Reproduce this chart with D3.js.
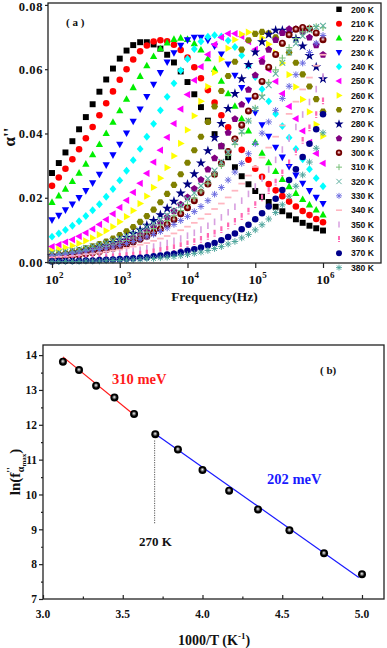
<!DOCTYPE html>
<html>
<head>
<meta charset="utf-8">
<script src="https://d3js.org/d3.v7.min.js"></script>
<style>
body { margin: 0; background: #fff; }
text { font-family: "Liberation Serif", "Times New Roman", serif; font-weight: bold; fill: #111; }
.leg { font-family: "Liberation Sans", Arial, sans-serif; }
</style>
</head>
<body>
<script>
// ---- panel (a) data : alpha'' vs frequency ----
var freq = [1.00e2, 1.26e2, 1.58e2, 2.00e2, 2.51e2, 3.16e2, 3.98e2, 5.01e2, 6.31e2, 7.94e2,
            1.00e3, 1.26e3, 1.58e3, 2.00e3, 2.51e3, 3.16e3, 3.98e3, 5.01e3, 6.31e3, 7.94e3,
            1.00e4, 1.26e4, 1.58e4, 2.00e4, 2.51e4, 3.16e4, 3.98e4, 5.01e4, 6.31e4, 7.94e4,
            1.00e5, 1.26e5, 1.58e5, 2.00e5, 2.51e5, 3.16e5, 3.98e5, 5.01e5, 6.31e5, 7.94e5,
            1.00e6];
var temps = ["200 K", "210 K", "220 K", "230 K", "240 K", "250 K", "260 K", "270 K", "280 K", "290 K",
             "300 K", "310 K", "320 K", "330 K", "340 K", "350 K", "360 K", "370 K", "380 K"];

var a200 = [.0277,.0308,.0341,.0376,.0413,.0451,.0491,.0530,.0568,.0602,.0633,.0658,.0675,.0684,.0684,.0677,.0664,.0645,.0621,.0593,.0560,.0522,.0482,.0440,.0398,.0360,.0326,.0295,.0267,.0242,.0221,.0203,.0187,.0172,.0158,.0145,.0133,.0122,.0113,.0105,.0098];
var a210 = [.0237,.0263,.0290,.0320,.0351,.0385,.0420,.0457,.0494,.0531,.0567,.0600,.0630,.0656,.0674,.0686,.0690,.0687,.0676,.0660,.0636,.0606,.0572,.0535,.0496,.0457,.0419,.0383,.0349,.0318,.0290,.0265,.0243,.0223,.0205,.0188,.0173,.0159,.0146,.0134,.0124];
var a220 = [.0186,.0206,.0227,.0251,.0277,.0305,.0334,.0366,.0400,.0435,.0471,.0507,.0543,.0578,.0611,.0640,.0664,.0682,.0693,.0697,.0693,.0680,.0660,.0633,.0600,.0563,.0524,.0485,.0446,.0408,.0372,.0339,.0309,.0282,.0257,.0235,.0214,.0195,.0178,.0162,.0147];
var a230 = [.0131,.0145,.0162,.0180,.0200,.0222,.0246,.0273,.0302,.0333,.0366,.0401,.0438,.0476,.0515,.0553,.0589,.0622,.0651,.0674,.0691,.0699,.0699,.0690,.0672,.0647,.0616,.0581,.0543,.0504,.0465,.0427,.0391,.0357,.0326,.0297,.0270,.0245,.0222,.0201,.0182];
var a240 = [.0079,.0089,.0100,.0113,.0127,.0143,.0161,.0180,.0203,.0227,.0254,.0284,.0317,.0352,.0390,.0430,.0472,.0514,.0556,.0596,.0632,.0663,.0686,.0701,.0706,.0702,.0689,.0669,.0643,.0611,.0576,.0538,.0500,.0461,.0423,.0387,.0352,.0320,.0289,.0261,.0236];
var a250 = [.0048,.0054,.0062,.0070,.0080,.0091,.0103,.0117,.0132,.0150,.0170,.0192,.0217,.0245,.0276,.0311,.0348,.0388,.0431,.0476,.0521,.0566,.0608,.0646,.0677,.0699,.0711,.0711,.0702,.0686,.0662,.0633,.0599,.0562,.0524,.0484,.0446,.0408,.0372,.0338,.0307];
var a260 = [.0035,.0040,.0045,.0051,.0058,.0066,.0075,.0085,.0097,.0110,.0125,.0141,.0160,.0182,.0205,.0232,.0261,.0294,.0330,.0369,.0411,.0455,.0500,.0546,.0590,.0631,.0665,.0692,.0709,.0715,.0711,.0698,.0678,.0651,.0619,.0583,.0545,.0506,.0467,.0428,.0392];
var a270 = [.0022,.0025,.0028,.0033,.0037,.0043,.0049,.0056,.0064,.0073,.0084,.0096,.0109,.0125,.0143,.0163,.0186,.0212,.0240,.0273,.0309,.0348,.0390,.0436,.0484,.0532,.0579,.0623,.0661,.0690,.0710,.0716,.0712,.0699,.0679,.0652,.0620,.0584,.0546,.0507,.0468];
var a280 = [.0019,.0021,.0024,.0027,.0031,.0036,.0040,.0046,.0052,.0060,.0068,.0077,.0088,.0100,.0114,.0129,.0147,.0167,.0189,.0214,.0242,.0274,.0308,.0346,.0387,.0431,.0477,.0524,.0570,.0614,.0653,.0685,.0708,.0721,.0721,.0712,.0695,.0672,.0642,.0607,.0570];
var a290 = [.0017,.0019,.0021,.0024,.0027,.0031,.0035,.0040,.0045,.0051,.0058,.0066,.0075,.0085,.0096,.0109,.0123,.0140,.0158,.0179,.0202,.0228,.0256,.0288,.0323,.0361,.0402,.0445,.0490,.0536,.0581,.0623,.0661,.0691,.0713,.0725,.0725,.0716,.0699,.0675,.0645];
var a300 = [.0014,.0016,.0018,.0020,.0023,.0026,.0029,.0033,.0038,.0043,.0049,.0055,.0062,.0071,.0080,.0091,.0103,.0117,.0132,.0150,.0169,.0191,.0216,.0243,.0273,.0307,.0344,.0383,.0426,.0470,.0516,.0562,.0606,.0646,.0681,.0707,.0724,.0730,.0726,.0713,.0692];
var a310 = [.0020,.0022,.0025,.0028,.0031,.0035,.0039,.0043,.0048,.0054,.0060,.0067,.0075,.0084,.0093,.0104,.0116,.0129,.0144,.0160,.0179,.0199,.0221,.0245,.0271,.0300,.0332,.0366,.0401,.0439,.0479,.0519,.0559,.0598,.0635,.0667,.0695,.0716,.0729,.0733,.0729];
var a320 = [.0027,.0030,.0033,.0036,.0040,.0044,.0049,.0054,.0060,.0066,.0073,.0081,.0089,.0098,.0109,.0120,.0132,.0146,.0161,.0177,.0195,.0215,.0237,.0260,.0285,.0312,.0342,.0373,.0406,.0440,.0476,.0513,.0550,.0586,.0620,.0652,.0680,.0703,.0721,.0731,.0735];
var a330 = [.0019,.0021,.0023,.0026,.0028,.0032,.0035,.0039,.0043,.0047,.0052,.0058,.0064,.0071,.0078,.0086,.0095,.0106,.0117,.0129,.0142,.0157,.0173,.0191,.0211,.0232,.0255,.0280,.0307,.0337,.0368,.0401,.0436,.0472,.0509,.0547,.0583,.0619,.0652,.0681,.0705];
var a340 = [.0014,.0016,.0017,.0019,.0021,.0024,.0026,.0029,.0032,.0036,.0039,.0044,.0048,.0054,.0059,.0066,.0073,.0081,.0089,.0099,.0110,.0122,.0135,.0149,.0165,.0182,.0201,.0222,.0244,.0269,.0296,.0325,.0356,.0390,.0425,.0461,.0499,.0537,.0574,.0611,.0645];
var a350 = [.0009,.0011,.0012,.0013,.0015,.0016,.0018,.0020,.0022,.0025,.0028,.0031,.0035,.0038,.0043,.0048,.0053,.0059,.0066,.0073,.0082,.0091,.0101,.0113,.0125,.0139,.0155,.0172,.0191,.0212,.0235,.0260,.0288,.0318,.0350,.0384,.0420,.0459,.0498,.0538,.0577];
var a360 = [.0006,.0006,.0007,.0008,.0009,.0010,.0011,.0013,.0014,.0016,.0018,.0020,.0022,.0025,.0028,.0032,.0036,.0040,.0045,.0051,.0057,.0064,.0071,.0080,.0090,.0101,.0113,.0127,.0142,.0159,.0179,.0200,.0223,.0249,.0278,.0309,.0343,.0379,.0418,.0459,.0502];
var a370 = [.0002,.0003,.0003,.0003,.0004,.0005,.0005,.0006,.0007,.0008,.0009,.0010,.0012,.0013,.0015,.0018,.0020,.0023,.0026,.0030,.0035,.0040,.0045,.0052,.0059,.0068,.0078,.0089,.0102,.0116,.0133,.0152,.0173,.0197,.0224,.0255,.0289,.0327,.0368,.0413,.0460];
var a380 = [.0001,.0001,.0002,.0002,.0002,.0003,.0003,.0003,.0004,.0005,.0005,.0006,.0007,.0008,.0010,.0011,.0013,.0015,.0017,.0020,.0023,.0027,.0031,.0036,.0042,.0048,.0056,.0064,.0075,.0086,.0100,.0116,.0134,.0154,.0178,.0205,.0236,.0271,.0311,.0354,.0402];
var series = [a200, a210, a220, a230, a240, a250, a260, a270, a280, a290,
              a300, a310, a320, a330, a340, a350, a360, a370, a380];

var tickAx = [1e2, 1e3, 1e4, 1e5, 1e6];
var tickAxExp = ["2", "3", "4", "5", "6"];
var tickAy = [0, 0.02, 0.04, 0.06, 0.08];

// ---- panel (b) data : ln(f max) vs 1000/T ----
var invT = [3.125, 3.226, 3.333, 3.448, 3.571, 3.704, 3.846, 4.000, 4.167, 4.348, 4.545, 4.762, 5.000];
var lnF  = [13.81, 13.57, 13.12, 12.78, 12.31, 11.73, 11.29, 10.70, 10.11, 9.57, 8.97, 8.31, 7.71];
var fit310x = [3.125, 3.58], fit310y = [13.95, 12.25];
var fit202x = [3.70, 4.98], fit202y = [11.75, 7.62];
var mark270x = [3.70, 3.70], mark270y = [11.55, 9.15];
var tickBx = [3.0, 3.5, 4.0, 4.5, 5.0];
var tickBxMinor = [3.25, 3.75, 4.25, 4.75];
var tickBy = [7, 8, 9, 10, 11, 12, 13, 14];
var tickByMinor = [7.5, 8.5, 9.5, 10.5, 11.5, 12.5, 13.5];

// ---- styles ----
var colors = ["#000000", "#ff0000", "#00ee00", "#0000ff", "#00ffff", "#ff00ff", "#ffff00", "#808000", "#000080", "#800080",
              "#800000", "#78c078", "#5fb0a0", "#6a6ae0", "#ffb6c1", "#d8a0e0", "#ff69b4", "#00008b", "#4aa39a"];
var markerType = ["square", "circle", "triUp", "triDown", "diamond", "triLeft", "triRight", "hex", "star", "pent",
                  "ball", "plus", "cross", "aster", "dash", "vbar", "ibar", "circle", "aster"];

var width = 387, height = 648;
var svg = d3.select("body").append("svg").attr("width", width).attr("height", height);
var defs = svg.append("defs");

function ballGrad(id, dark, mid) {
	var g = defs.append("radialGradient").attr("id", id)
		.attr("cx", "50%").attr("cy", "50%").attr("r", "50%").attr("fx", "48%").attr("fy", "42%");
	g.append("stop").attr("offset", "0%").attr("stop-color", "#fff");
	g.append("stop").attr("offset", "28%").attr("stop-color", mid);
	g.append("stop").attr("offset", "62%").attr("stop-color", dark);
	g.append("stop").attr("offset", "100%").attr("stop-color", dark);
}
ballGrad("ballBlack", "#000", "#888");
ballGrad("ballMaroon", "#700000", "#d08080");

function poly(n, r, rot) {
	var p = [];
	for (var k = 0; k < n; k++) {
		var a = rot + k * 2 * Math.PI / n;
		p.push([(r * Math.cos(a)).toFixed(2), (r * Math.sin(a)).toFixed(2)]);
	}
	return "M" + p.join("L") + "Z";
}

var shapes = {
	square:   { d: "M-2.7,-2.7h5.4v5.4h-5.4Z", fill: true },
	circle:   { d: d3.symbol(d3.symbolCircle, 28)(), fill: true },
	triUp:    { d: "M0,-3.6L3.3,2.4L-3.3,2.4Z", fill: true },
	triDown:  { d: "M0,3.6L3.3,-2.4L-3.3,-2.4Z", fill: true },
	diamond:  { d: "M0,-3.6L3.1,0L0,3.6L-3.1,0Z", fill: true },
	triLeft:  { d: "M-3.6,0L2.4,-3.3L2.4,3.3Z", fill: true },
	triRight: { d: "M3.6,0L-2.4,-3.3L-2.4,3.3Z", fill: true },
	hex:      { d: poly(6, 3.2, 0), fill: true },
	star:     { d: d3.symbol(d3.symbolStar, 26)(), fill: true },
	pent:     { d: poly(5, 3.4, -Math.PI / 2), fill: true },
	ball:     { d: d3.symbol(d3.symbolCircle, 32)(), fill: true, paint: "url(#ballMaroon)" },
	plus:     { d: "M-3,0h6M0,-3v6", fill: false, w: 1 },
	cross:    { d: "M-2.6,-2.6l5.2,5.2M-2.6,2.6l5.2,-5.2", fill: false, w: 1 },
	aster:    { d: "M-3,0h6M0,-3v6M-2.2,-2.2l4.4,4.4M-2.2,2.2l4.4,-4.4", fill: false, w: 0.9 },
	dash:     { d: "M-3,0h6", fill: false, w: 1.6 },
	vbar:     { d: "M0,-3v6", fill: false, w: 1.5 },
	ibar:     { d: "M0,-3v4.2M0,2.2v1", fill: false, w: 2 }
};

function drawMarker(sel, i) {
	var sh = shapes[markerType[i]];
	sel.attr("d", sh.d)
		.attr("fill", sh.fill ? (sh.paint || colors[i]) : "none")
		.attr("stroke", sh.fill ? "none" : colors[i])
		.attr("stroke-width", sh.w || 1);
}

// ================= panel (a) =================
var xA = d3.scaleLog().domain([Math.pow(10, 1.941), Math.pow(10, 6.856)]).range([48, 381]);
var yA = d3.scaleLinear().domain([-0.0003, 0.0806]).range([263, 3]);

series.forEach(function(vals, i) {
	svg.append("g").selectAll("path")
		.data(vals)
		.join("path")
			.attr("transform", function(d, j) { return "translate(" + xA(freq[j]).toFixed(2) + "," + yA(d).toFixed(2) + ") scale(1.1)"; })
			.call(drawMarker, i);
});

svg.append("rect")
	.attr("x", 48).attr("y", 3).attr("width", 333).attr("height", 260)
	.attr("fill", "none").attr("stroke", "#222").attr("stroke-width", 1.3);

var axAx = svg.append("g")
	.attr("transform", "translate(0,263)")
	.call(d3.axisBottom(xA).tickValues(tickAx).tickSize(5).tickFormat(""));
axAx.select(".domain").remove();
axAx.selectAll("line").attr("stroke", "#222").attr("stroke-width", 1.2);

tickAx.forEach(function(v, i) {
	svg.append("text").attr("x", xA(v)).attr("y", 284).attr("text-anchor", "middle")
		.attr("font-size", 13.5).text("10");
	svg.append("text").attr("x", xA(v) + 7).attr("y", 278).attr("font-size", 9).text(tickAxExp[i]);
});

var axAy = svg.append("g")
	.attr("transform", "translate(48,0)")
	.call(d3.axisLeft(yA).tickValues(tickAy).tickSize(3).tickPadding(2).tickFormat(d3.format(".2f")));
axAy.select(".domain").remove();
axAy.selectAll("line").attr("stroke", "#222").attr("stroke-width", 1.2);
axAy.selectAll("text").attr("font-size", 12.5).attr("font-family", null).style("letter-spacing", "0.6px");
axAy.selectAll(".tick").filter(function(d) { return d === 0.08; }).select("text").attr("dy", "0.42em");

svg.append("text")
	.attr("x", 214.5).attr("y", 301).attr("text-anchor", "middle").attr("font-size", 13.5)
	.text("Frequency(Hz)");
svg.append("text")
	.attr("transform", "translate(15,137) rotate(-90)").attr("text-anchor", "middle").attr("font-size", 17)
	.text("α''");
svg.append("text").attr("x", 66).attr("y", 26).attr("font-size", 11).text("( a )");

// legend
var leg = svg.append("g");
temps.forEach(function(t, i) {
	var cy = 9.3 + i * 14.35;
	leg.append("path").attr("transform", "translate(339," + cy + ")").call(drawMarker, i);
	leg.append("text").attr("class", "leg").attr("x", 351).attr("y", cy + 3.2)
		.attr("font-size", 8.6).text(t);
});

// ================= panel (b) =================
var xB = d3.scaleLinear().domain([3.0, 5.138]).range([43, 384]);
var yB = d3.scaleLinear().domain([7, 14.29]).range([599, 345]);

svg.append("rect")
	.attr("x", 43).attr("y", 345).attr("width", 341).attr("height", 254)
	.attr("fill", "none").attr("stroke", "#222").attr("stroke-width", 1.3);

var axBx = svg.append("g").attr("transform", "translate(0,599)")
	.call(d3.axisBottom(xB).tickValues(tickBx).tickSize(-4).tickFormat(""));
var axBxm = svg.append("g").attr("transform", "translate(0,599)")
	.call(d3.axisBottom(xB).tickValues(tickBxMinor).tickSize(-2.5).tickFormat(""));
var axBy = svg.append("g").attr("transform", "translate(43,0)")
	.call(d3.axisLeft(yB).tickValues(tickBy).tickSize(4).tickPadding(2));
var axBym = svg.append("g").attr("transform", "translate(43,0)")
	.call(d3.axisLeft(yB).tickValues(tickByMinor).tickSize(2).tickFormat(""));
[axBx, axBxm, axBy, axBym].forEach(function(a) {
	a.select(".domain").remove();
	a.selectAll("line").attr("stroke", "#222").attr("stroke-width", 1.2);
});
axBy.selectAll("text").attr("font-size", 11.5).attr("font-family", null);

tickBx.forEach(function(v) {
	svg.append("text").attr("x", xB(v)).attr("y", 618).attr("text-anchor", "middle")
		.attr("font-size", 11.5).text(d3.format(".1f")(v));
});

// fit lines
svg.append("line")
	.attr("x1", xB(fit310x[0])).attr("y1", yB(fit310y[0])).attr("x2", xB(fit310x[1])).attr("y2", yB(fit310y[1]))
	.attr("stroke", "#ff1a1a").attr("stroke-width", 1.2);
svg.append("line")
	.attr("x1", xB(fit202x[0])).attr("y1", yB(fit202y[0])).attr("x2", xB(fit202x[1])).attr("y2", yB(fit202y[1]))
	.attr("stroke", "#1a1aff").attr("stroke-width", 1.2);
svg.append("line")
	.attr("x1", xB(mark270x[0])).attr("y1", yB(mark270y[0])).attr("x2", xB(mark270x[1])).attr("y2", yB(mark270y[1]))
	.attr("stroke", "#555").attr("stroke-width", 1).attr("stroke-dasharray", "1.2,1.2");

svg.append("g").selectAll("circle")
	.data(invT)
	.join("circle")
		.attr("cx", function(d) { return xB(d); })
		.attr("cy", function(d, i) { return yB(lnF[i]); })
		.attr("r", 4)
		.attr("fill", "url(#ballBlack)");

svg.append("text").attr("x", 112).attr("y", 384).attr("font-size", 14.5).style("fill", "#ff1a1a").text("310 meV");
svg.append("text").attr("x", 267).attr("y", 484).attr("font-size", 14.5).style("fill", "#1a1aff").text("202 meV");
svg.append("text").attr("x", 139).attr("y", 546).attr("font-size", 13).text("270 K");
svg.append("text").attr("x", 320).attr("y", 374).attr("font-size", 11).text("( b)");

svg.append("text")
	.attr("x", 214).attr("y", 645).attr("text-anchor", "middle").attr("font-size", 14)
	.call(function(t) {
		t.append("tspan").text("1000/T (K");
		t.append("tspan").attr("font-size", 9).attr("dy", -6).text("-1");
		t.append("tspan").attr("dy", 6).text(")");
	});

var yt = svg.append("text")
	.attr("transform", "translate(20,472) rotate(-90)").attr("text-anchor", "middle").attr("font-size", 15);
yt.append("tspan").text("ln(f");
yt.append("tspan").attr("font-size", 10).attr("dy", -6).text("''");
yt.append("tspan").attr("font-size", 10).attr("dx", -5).attr("dy", 10).text("α");
yt.append("tspan").attr("font-size", 7).attr("dy", 2).text("max");
yt.append("tspan").attr("dy", -6).text(")");
</script>
</body>
</html>
